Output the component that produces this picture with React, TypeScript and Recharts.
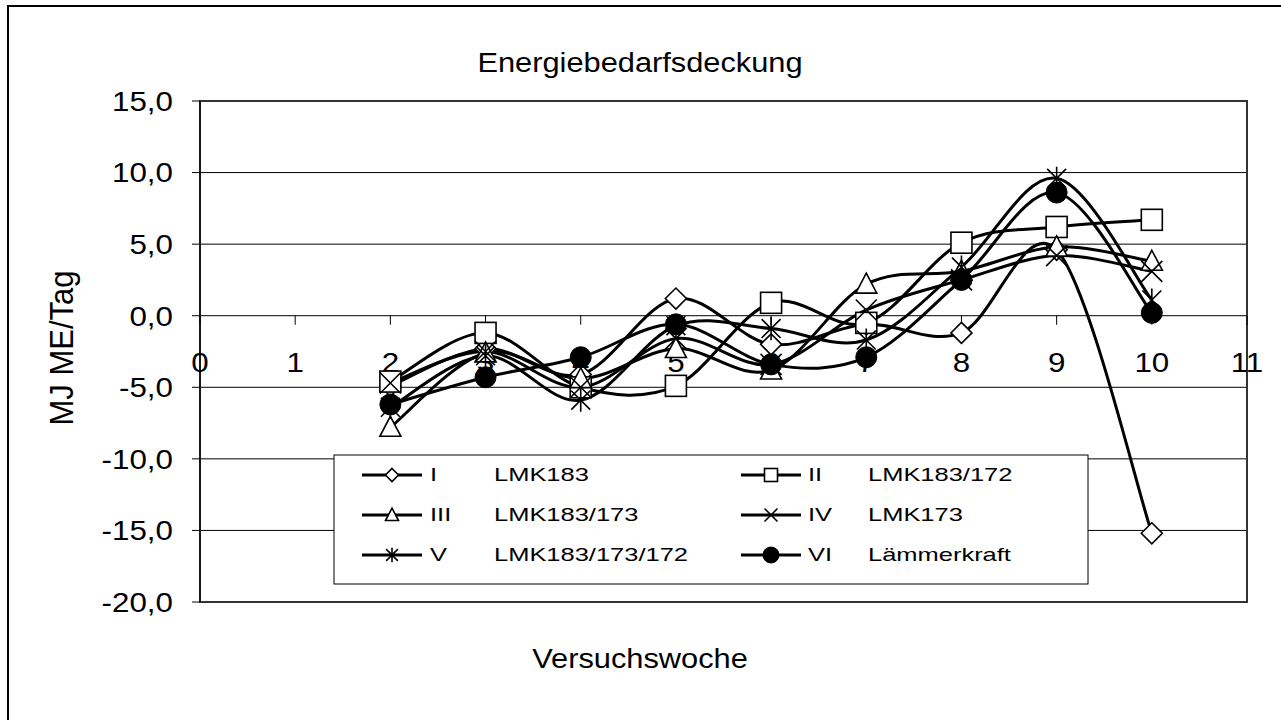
import React from 'react';
import { ComposedChart, Line, Scatter, XAxis, YAxis, CartesianGrid, ReferenceArea } from 'recharts';

const weeks = [2, 3, 4, 5, 6, 7, 8, 9, 10];
const serI = [-4.9, -2.3, -4.1, 1.2, -2.0, -0.6, -1.2, 4.6, -15.2];
const serII = [-4.6, -1.2, -5.0, -4.9, 0.9, -0.5, 5.1, 6.2, 6.7];
const serIII = [-7.8, -2.6, -4.4, -2.3, -3.8, 2.2, 3.1, 4.8, 3.8];
const serIV = [-4.7, -2.5, -5.0, -1.6, -3.4, 0.4, 2.5, 4.2, 3.1];
const serV = [-6.4, -2.8, -5.9, -0.7, -0.9, -1.7, 3.4, 9.6, 1.1];
const serVI = [-6.2, -4.3, -2.9, -0.6, -3.4, -2.9, 2.5, 8.6, 0.2];

const seriesIds = ['I', 'II', 'III', 'IV', 'V', 'VI'];
const seriesNames = ['LMK183', 'LMK183/172', 'LMK183/173', 'LMK173', 'LMK183/173/172', 'Lämmerkraft'];
const seriesMarkers = ['diamond', 'square', 'triangle', 'x', 'star', 'circle'];
const seriesValues = [serI, serII, serIII, serIV, serV, serVI];

const xTickValues = [0, 1, 2, 3, 4, 5, 6, 7, 8, 9, 10, 11];
const yTickValues = [-20, -15, -10, -5, 0, 5, 10, 15];

const FONT = "'Liberation Sans', Arial, Helvetica, sans-serif";
const TICK_SIZE = 28;
const TICK_SX = 1.12;

// Excel-like smoothing (Catmull-Rom via cubic Bezier)
const excelCurve = (context: any) => {
  let xs: number[] = [];
  let ys: number[] = [];
  return {
    areaStart() {},
    areaEnd() {},
    lineStart() { xs = []; ys = []; },
    point(x: number, y: number) { xs.push(+x); ys.push(+y); },
    lineEnd() {
      const n = xs.length;
      if (!n) return;
      context.moveTo(xs[0], ys[0]);
      for (let i = 0; i < n - 1; i++) {
        const i0 = Math.max(i - 1, 0);
        const i3 = Math.min(i + 2, n - 1);
        const c1x = xs[i] + (xs[i + 1] - xs[i0]) / 6;
        const c1y = ys[i] + (ys[i + 1] - ys[i0]) / 6;
        const c2x = xs[i + 1] - (xs[i3] - xs[i]) / 6;
        const c2y = ys[i + 1] - (ys[i3] - ys[i]) / 6;
        context.bezierCurveTo(c1x, c1y, c2x, c2y, xs[i + 1], ys[i + 1]);
      }
    },
  };
};

function Marker({ kind, cx, cy, s }: { kind: string; cx: number; cy: number; s: number }) {
  const sw = 1.6;
  switch (kind) {
    case 'diamond':
      return <polygon points={`${cx},${cy - s} ${cx + s},${cy} ${cx},${cy + s} ${cx - s},${cy}`} fill="#fff" stroke="#000" strokeWidth={sw} />;
    case 'square':
      return <rect x={cx - s} y={cy - s} width={2 * s} height={2 * s} fill="#fff" stroke="#000" strokeWidth={sw} />;
    case 'triangle':
      return <polygon points={`${cx},${cy - s * 1.05} ${cx + s},${cy + s * 0.85} ${cx - s},${cy + s * 0.85}`} fill="#fff" stroke="#000" strokeWidth={sw} />;
    case 'x':
      return <path d={`M${cx - s},${cy - s}L${cx + s},${cy + s}M${cx - s},${cy + s}L${cx + s},${cy - s}`} stroke="#000" strokeWidth={sw} fill="none" />;
    case 'star': {
      const a = s * 0.9;
      return <path d={`M${cx - a},${cy - a}L${cx + a},${cy + a}M${cx - a},${cy + a}L${cx + a},${cy - a}M${cx},${cy - s * 1.1}L${cx},${cy + s * 1.1}`} stroke="#000" strokeWidth={sw} fill="none" />;
    }
    default:
      return <circle cx={cx} cy={cy} r={s} fill="#000" stroke="#000" strokeWidth={1} />;
  }
}

const fmt = (v: number) => v.toFixed(1).replace('.', ',');

const YTick = (props: any) => {
  const { x, y, payload } = props;
  return (
    <text x={0} y={0} transform={`translate(${x},${y}) scale(${TICK_SX},1)`} textAnchor="end" dominantBaseline="central" fontSize={TICK_SIZE} fontFamily={FONT} fill="#000">
      {fmt(payload.value)}
    </text>
  );
};

const XTickShape = (props: any) => {
  const { cx, cy, payload } = props;
  if (cx == null || cy == null) return null;
  return (
    <g>
      <line x1={cx} y1={cy} x2={cx} y2={cy + 9} stroke="#000" strokeWidth={1} />
      <text x={0} y={0} transform={`translate(${cx},${cy + 46}) scale(${TICK_SX},1)`} textAnchor="middle" dominantBaseline="central" fontSize={TICK_SIZE} fontFamily={FONT} fill="#000">
        {payload.x}
      </text>
    </g>
  );
};

const tickData = xTickValues.map((v) => ({ x: v, y: 0 }));

export default function App() {
  const legendRows = [0, 1, 2];
  return (
    <div style={{ position: 'fixed', left: 0, top: 0, width: 1281, height: 720, overflow: 'hidden', background: '#fff' }}>
      <div style={{ position: 'absolute', left: 7, top: 5, width: 1300, height: 800, border: '2px solid #000', boxSizing: 'border-box' }} />
      <div style={{ position: 'absolute', left: 0, top: 0 }}>
        <ComposedChart width={1281} height={720} margin={{ top: 101, right: 34, left: 0, bottom: 118 }}>
          <XAxis dataKey="x" type="number" domain={[0, 11]} ticks={xTickValues} hide allowDuplicatedCategory={false} />
          <YAxis
            type="number"
            domain={[-20, 15]}
            ticks={yTickValues}
            width={200}
            tickSize={8}
            tickMargin={19}
            axisLine={{ stroke: '#000', strokeWidth: 1 }}
            tickLine={{ stroke: '#000', strokeWidth: 1 }}
            tick={<YTick />}
            interval={0}
            allowDataOverflow
          />
          <CartesianGrid vertical={false} stroke="#000" strokeWidth={1} />
          <ReferenceArea x1={0} x2={11} y1={-20} y2={15} fill="none" stroke="#333" strokeWidth={2} ifOverflow="visible" />
          <Scatter data={tickData} dataKey="y" shape={<XTickShape />} isAnimationActive={false} />
          {seriesValues.map((vals, si) => (
            <Line
              key={seriesIds[si]}
              data={weeks.map((w, i) => ({ x: w, y: vals[i] }))}
              dataKey="y"
              type={excelCurve as any}
              stroke="#000"
              strokeWidth={3}
              isAnimationActive={false}
              activeDot={false}
              dot={(p: any) => <Marker key={`${si}-${p.index}`} kind={seriesMarkers[si]} cx={p.cx} cy={p.cy} s={10.5} />}
            />
          ))}
        </ComposedChart>
      </div>
      <svg width={1281} height={720} style={{ position: 'absolute', left: 0, top: 0, pointerEvents: 'none' }}>
        <text x={0} y={0} transform="translate(640,62) scale(1.1,1)" textAnchor="middle" dominantBaseline="central" fontSize={28} fontFamily={FONT} fill="#000">Energiebedarfsdeckung</text>
        <text x={0} y={0} transform="translate(640,658) scale(1.1,1)" textAnchor="middle" dominantBaseline="central" fontSize={28} fontFamily={FONT} fill="#000">Versuchswoche</text>
        <text x={0} y={0} transform="translate(62,348) rotate(-90) scale(1,1.05)" textAnchor="middle" dominantBaseline="central" fontSize={31} fontFamily={FONT} fill="#000">MJ ME/Tag</text>
        <g transform="translate(334,455)">
          <rect x={0} y={0} width={754} height={129} fill="#fff" stroke="#000" strokeWidth={1} />
          {seriesIds.map((id, si) => {
            const col = si % 2;
            const row = legendRows[Math.floor(si / 2)];
            const cy = 20 + row * 40;
            const lx = col === 0 ? 28 : 407;
            const nx = col === 0 ? 96 : 474;
            const tx = col === 0 ? 160 : 534;
            const kind = seriesMarkers[si];
            return (
              <g key={id}>
                <line x1={lx} y1={cy} x2={lx + 60} y2={cy} stroke="#000" strokeWidth={3} />
                <Marker kind={kind} cx={lx + 30} cy={cy} s={kind === 'circle' ? 8 : 6.5} />
                <text x={0} y={0} transform={`translate(${nx},${cy}) scale(1.37,1)`} dominantBaseline="central" fontSize={18.6} fontFamily={FONT} fill="#000">{id}</text>
                <text x={0} y={0} transform={`translate(${tx},${cy}) scale(1.37,1)`} dominantBaseline="central" fontSize={18.6} fontFamily={FONT} fill="#000">{seriesNames[si]}</text>
              </g>
            );
          })}
        </g>
      </svg>
    </div>
  );
}
